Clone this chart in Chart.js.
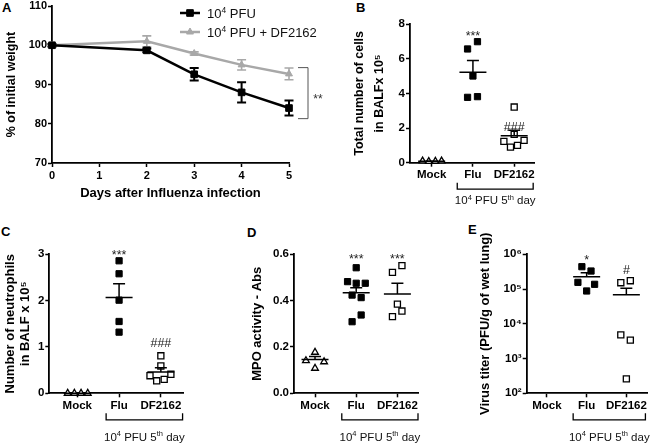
<!DOCTYPE html>
<html><head><meta charset="utf-8">
<script src="https://cdn.jsdelivr.net/npm/chart.js@4.4.1/dist/chart.umd.min.js"></script>
<style>
html,body{margin:0;padding:0;background:#fff;}
body{position:relative;width:653px;height:443px;overflow:hidden;}
canvas{position:absolute;}
.pl{position:absolute;font-family:"Liberation Sans",Arial,sans-serif;font-weight:bold;font-size:13px;line-height:13px;color:#000;}
</style></head><body>
<div class="pl" style="left:2px;top:1px">A</div>
<div class="pl" style="left:356px;top:1px">B</div>
<div class="pl" style="left:1px;top:225px">C</div>
<div class="pl" style="left:247px;top:226px">D</div>
<div class="pl" style="left:468px;top:223px">E</div>
<canvas id="cA" width="330" height="210" style="left:0;top:0;width:330px;height:210px"></canvas>
<canvas id="cB" width="323" height="215" style="left:330px;top:0;width:323px;height:215px"></canvas>
<canvas id="cC" width="215" height="228" style="left:0;top:215px;width:215px;height:228px"></canvas>
<canvas id="cD" width="215" height="228" style="left:215px;top:215px;width:215px;height:228px"></canvas>
<canvas id="cE" width="223" height="228" style="left:430px;top:215px;width:223px;height:228px"></canvas>
<script>
// ---------------- data ----------------
// Panel A: body weight
const dayValues = [0, 2, 3, 4, 5];
const dayTicks = [0, 1, 2, 3, 4, 5];
const weightTicks = [70, 80, 90, 100, 110];
const seriesNames = ['10⁴ PFU', '10⁴ PFU + DF2162'];
const weightPFU = [100, 98.7, 92.6, 88.0, 84.0];
const weightPFUSem = [0.3, 0.5, 1.6, 2.6, 1.9];
const weightDF = [100, 101.0, 97.9, 95.0, 92.7];
const weightDFSem = [0.3, 1.4, 0.4, 1.3, 1.5];
const sigTop = 94.3, sigBottom = 81.3;

const groups = ['Mock', 'Flu', 'DF2162'];
const bracketLabel = '10⁴ PFU 5ᵗʰ day';

// Panel B: total cells in BALF (x10^5)
const bTicks = [0, 2, 4, 6, 8];
const bMock = [0.10, 0.07, 0.08, 0.10];
const bMockJitter = [-0.22, -0.07, 0.09, 0.24];
const bFlu = [6.56, 6.98, 5.00, 3.77, 3.81];
const bFluJitter = [-0.13, 0.11, 0, -0.13, 0.11];
const bDF = [3.21, 1.64, 1.23, 1.29, 0.90, 1.00];
const bDFJitter = [0, 0, -0.25, 0.24, -0.09, 0.08];
const bMean = [0.09, 5.22, 1.55];
const bSem = [0.01, 0.68, 0.32];

// Panel C: neutrophils in BALF (x10^5)
const cTicks = [0, 1, 2, 3];
const cMock = [0, 0, 0, 0];
const cMockJitter = [-0.23, -0.07, 0.09, 0.25];
const cFlu = [2.86, 2.58, 2.01, 1.55, 1.32];
const cFluJitter = [0, 0, 0, 0, 0];
const cDF = [0.81, 0.59, 0.38, 0.41, 0.27, 0.30];
const cDFJitter = [0, 0, -0.26, 0.24, -0.10, 0.08];
const cMean = [0, 2.065, 0.46];
const cSem = [0, 0.30, 0.09];

// Panel D: MPO activity
const dTicks = [0, 0.2, 0.4, 0.6];
const dMock = [0.177, 0.141, 0.136, 0.108];
const dMockJitter = [0, -0.22, 0.22, 0];
const dFlu = [0.542, 0.482, 0.475, 0.475, 0.424, 0.413, 0.338, 0.309];
const dFluJitter = [0, -0.21, 0, 0.22, -0.10, 0.12, 0.12, -0.10];
const dDF = [0.522, 0.551, 0.385, 0.355, 0.331];
const dDFJitter = [-0.12, 0.11, 0, 0.11, -0.12];
const dMean = [0.146, 0.434, 0.429];
const dSem = [0.013, 0.022, 0.046];

// Panel E: virus titer
const eTicks = [1e2, 1e3, 1e4, 1e5, 1e6];
const eFlu = [4.4e5, 3.3e5, 1.56e5, 1.37e5, 8.8e4];
const eFluJitter = [-0.12, 0.11, -0.22, 0.20, 0];
const eDF = [1.52e5, 1.74e5, 4.8e3, 3.4e3, 2.6e2];
const eDFJitter = [-0.14, 0.10, -0.14, 0.10, 0];
const eMean = [null, 2.27e5, 6.8e4];
const eSem = [null, 6.8e4, 3.7e4];

// ---------------- helpers ----------------
const FONT = '"Liberation Sans", Arial, Helvetica, sans-serif';
Chart.defaults.font.family = FONT;
Chart.defaults.color = '#000';
Chart.defaults.animation = false;

const SUP = {'⁰':'0','¹':'1','²':'2','³':'3','⁴':'4','⁵':'5','⁶':'6','⁷':'7','⁸':'8','⁹':'9','ᵗ':'t','ʰ':'h'};
const SUPDIG = ['⁰','¹','²','³','⁴','⁵','⁶','⁷','⁸','⁹'];
function parseRich(s) {
  const parts = [];
  for (const ch of s) {
    const sup = SUP[ch] !== undefined;
    const t = sup ? SUP[ch] : ch;
    const last = parts[parts.length - 1];
    if (last && last.sup === sup) last.t += t; else parts.push({t, sup});
  }
  return parts;
}
function drawRich(ctx, parts, x, y, size, align) {
  const f = (s) => `normal ${s}px ${FONT}`;
  let w = 0;
  parts.forEach(p => { ctx.font = f(p.sup ? size * 0.65 : size); w += ctx.measureText(p.t).width; });
  let cx = align === 'center' ? x - w / 2 : x;
  ctx.textBaseline = 'alphabetic'; ctx.textAlign = 'left';
  parts.forEach(p => {
    const s = p.sup ? size * 0.65 : size;
    ctx.font = f(s);
    ctx.fillText(p.t, cx, p.sup ? y - size * 0.38 : y);
    cx += ctx.measureText(p.t).width;
  });
}
function marker(ctx, style, r, bw, x, y) {
  if (Chart.helpers && Chart.helpers.drawPoint) {
    Chart.helpers.drawPoint(ctx, {pointStyle: style, radius: r, rotation: 0, borderWidth: bw}, x, y);
  } else {
    ctx.beginPath();
    if (style === 'rect') { const s = r * Math.SQRT1_2; ctx.rect(x - s, y - s, 2 * s, 2 * s); }
    else { ctx.moveTo(x, y - r); ctx.lineTo(x + r * 0.866, y + r / 2); ctx.lineTo(x - r * 0.866, y + r / 2); ctx.closePath(); }
    ctx.fill(); ctx.stroke();
  }
}
function axisStyle(extra) {
  return Object.assign({
    border: {display: true, color: '#000', width: 1.8},
    grid: {display: true, drawOnChartArea: false, drawTicks: true, tickLength: 4, tickWidth: 1.5, tickColor: '#000'}
  }, extra);
}
function fixedY(width) { return function (s) { s.width = width; s.paddingTop = 0; s.paddingBottom = 0; }; }
function fixedX(height) { return function (s) { s.height = height; s.paddingLeft = 0; s.paddingRight = 0; }; }
function setTicks(values) { return function (s) { s.ticks = values.map(v => ({value: v})); }; }

// ---------------- Panel A ----------------
const plugA = {
  id: 'panelA',
  beforeDatasetsDraw(chart) {
    const {ctx, scales: {x, y}} = chart;
    const sets = [[weightDF, weightDFSem, '#a8a8a8', 1.6], [weightPFU, weightPFUSem, '#000', 2]];
    ctx.save();
    sets.forEach(([vals, sems, col, lw]) => {
      ctx.strokeStyle = col; ctx.lineWidth = lw;
      vals.forEach((v, i) => {
        const px = x.getPixelForValue(dayValues[i]);
        const y1 = y.getPixelForValue(v + sems[i]), y2 = y.getPixelForValue(v - sems[i]);
        ctx.beginPath();
        ctx.moveTo(px, y1); ctx.lineTo(px, y2);
        ctx.moveTo(px - 4.5, y1); ctx.lineTo(px + 4.5, y1);
        ctx.moveTo(px - 4.5, y2); ctx.lineTo(px + 4.5, y2);
        ctx.stroke();
      });
    });
    ctx.restore();
  },
  afterDraw(chart) {
    const {ctx, scales: {y}, chartArea} = chart;
    ctx.save();
    // legend
    const rows = [
      {cy: 13, base: 17.5, col: '#000', style: 'rect', r: 4.7, name: seriesNames[0]},
      {cy: 32, base: 36.7, col: '#a8a8a8', style: 'triangle', r: 4, name: seriesNames[1]}
    ];
    rows.forEach(rw => {
      ctx.strokeStyle = rw.col; ctx.fillStyle = rw.col; ctx.lineWidth = 2.5;
      ctx.beginPath(); ctx.moveTo(180, rw.cy); ctx.lineTo(200, rw.cy); ctx.stroke();
      ctx.lineWidth = 1;
      marker(ctx, rw.style, rw.r, 1, 190, rw.cy);
      ctx.fillStyle = '#111';
      drawRich(ctx, parseRich(rw.name), 207, rw.base, 13, 'left');
    });
    // significance bracket
    const r = chartArea.right;
    const yt = y.getPixelForValue(sigTop), yb = y.getPixelForValue(sigBottom);
    ctx.strokeStyle = '#555'; ctx.lineWidth = 1;
    ctx.beginPath();
    ctx.moveTo(r + 9, yt); ctx.lineTo(r + 19, yt); ctx.lineTo(r + 19, yb); ctx.lineTo(r + 9, yb);
    ctx.stroke();
    ctx.fillStyle = '#333'; ctx.font = `12px ${FONT}`; ctx.textAlign = 'center'; ctx.textBaseline = 'alphabetic';
    ctx.fillText('**', r + 29, (yt + yb) / 2 + 2.5 + 0.575 * 12);
    ctx.restore();
  }
};

new Chart(document.getElementById('cA'), {
  type: 'line',
  data: {datasets: [
    {label: seriesNames[0], data: dayValues.map((d, i) => ({x: d, y: weightPFU[i]})),
     borderColor: '#000', backgroundColor: '#000', borderWidth: 2.5, pointStyle: 'rect',
     pointRadius: 4.7, pointHoverRadius: 4.7, pointBorderWidth: 1, tension: 0, clip: false},
    {label: seriesNames[1], data: dayValues.map((d, i) => ({x: d, y: weightDF[i]})),
     borderColor: '#a8a8a8', backgroundColor: '#a8a8a8', borderWidth: 2.5, pointStyle: 'triangle',
     pointRadius: 4, pointHoverRadius: 4, pointBorderWidth: 1, tension: 0, clip: false}
  ]},
  options: {
    responsive: false, animation: false,
    layout: {padding: {left: 0, top: 6, right: 41, bottom: 0}},
    plugins: {legend: {display: false}, tooltip: {enabled: false}},
    scales: {
      x: axisStyle({type: 'linear', min: 0, max: 5, afterBuildTicks: setTicks(dayTicks), afterFit: fixedX(47),
        ticks: {font: {size: 11, weight: 'bold'}, padding: 2, color: '#000', maxRotation: 0, autoSkip: false},
        title: {display: true, text: 'Days after Influenza infection', color: '#000',
          font: {size: 13, weight: 'bold'}, padding: {top: 0, bottom: 9}}}),
      y: axisStyle({type: 'linear', min: 70, max: 110, afterBuildTicks: setTicks(weightTicks), afterFit: fixedY(52),
        ticks: {font: {size: 11, weight: 'bold'}, padding: 1, color: '#000'},
        title: {display: true, text: '% of initial weight', color: '#000',
          font: {size: 12.5, weight: 'bold'}, padding: {top: 4.2, bottom: 0}}})
    }
  },
  plugins: [plugA]
});

// ---------------- scatter panels ----------------
function scatterPanel(id, p) {
  const datasets = p.series.map(s => {
    const tri = s.style === 'tri', filled = s.style === 'sq';
    return {
      data: s.vals.map((v, i) => ({x: s.cat + s.jit[i], y: v})),
      pointStyle: tri ? 'triangle' : 'rect',
      pointRadius: tri ? 3.9 : (filled ? 4.4 : 4.3),
      pointHoverRadius: tri ? 3.9 : (filled ? 4.4 : 4.3),
      pointBorderWidth: filled ? 1 : 1.3,
      backgroundColor: filled ? '#000' : '#fff',
      borderColor: '#000',
      clip: false
    };
  });
  const stats = {
    id: 'stats',
    afterDatasetsDraw(chart) {
      const {ctx, scales: {x, y}, chartArea} = chart;
      ctx.save();
      ctx.strokeStyle = '#000'; ctx.lineWidth = 1.5;
      p.mean.forEach((m, i) => {
        if (m == null) return;
        const cx = x.getPixelForValue(i), my = y.getPixelForValue(m), sy = y.getPixelForValue(m + p.sem[i]);
        ctx.beginPath();
        ctx.moveTo(cx - 13.5, my); ctx.lineTo(cx + 13.5, my);
        ctx.moveTo(cx, my); ctx.lineTo(cx, sy);
        ctx.moveTo(cx - 6, sy); ctx.lineTo(cx + 6, sy);
        ctx.stroke();
      });
      ctx.fillStyle = '#222'; ctx.textAlign = 'center'; ctx.textBaseline = 'alphabetic';
      p.marks.forEach(mk => {
        const fs = 12.5;
        ctx.font = `${fs}px ${FONT}`;
        const cy = y.getPixelForValue(mk.y);
        const base = cy + (mk.text.includes('*') ? 0.575 : 0.36) * fs;
        ctx.fillText(mk.text, x.getPixelForValue(mk.cat), base);
      });
      const bx1 = x.getPixelForValue(p.bracket[0]), bx2 = x.getPixelForValue(p.bracket[1]);
      const by = chartArea.bottom + 26.5;
      ctx.strokeStyle = '#000'; ctx.lineWidth = 1.3;
      ctx.beginPath();
      ctx.moveTo(bx1, by - 6.5); ctx.lineTo(bx1, by); ctx.lineTo(bx2, by); ctx.lineTo(bx2, by - 6.5);
      ctx.stroke();
      ctx.fillStyle = '#111';
      drawRich(ctx, parseRich(bracketLabel), (bx1 + bx2) / 2, chartArea.bottom + p.labelDy, 11.5, 'center');
      ctx.restore();
    }
  };
  return new Chart(document.getElementById(id), {
    type: 'scatter',
    data: {datasets},
    options: {
      responsive: false, animation: false,
      layout: {padding: {left: 0, top: p.padTop, right: p.padRight, bottom: 0}},
      plugins: {legend: {display: false}, tooltip: {enabled: false}},
      scales: {
        x: axisStyle({type: 'linear', min: p.xMin, max: p.xMax, afterBuildTicks: setTicks([0, 1, 2]),
          afterFit: fixedX(p.xH),
          ticks: {autoSkip: false, maxRotation: 0, font: {size: 11.5, weight: 'bold'}, padding: 1.5, color: '#000',
            callback: (v) => groups[Math.round(v)]}}),
        y: axisStyle({type: p.yType || 'linear', min: p.yMin, max: p.yMax, afterBuildTicks: setTicks(p.yTicks),
          afterFit: fixedY(p.yW),
          ticks: {font: {size: 11.5, weight: 'bold'}, padding: 1, color: '#000', callback: p.fmt},
          title: {display: true, text: p.title, color: '#000',
            font: {size: p.titleSize, weight: 'bold', lineHeight: p.titleLH}, padding: {top: p.titlePad, bottom: 0}}})
      }
    },
    plugins: [stats]
  });
}

scatterPanel('cB', {
  series: [
    {vals: bMock, jit: bMockJitter, cat: 0, style: 'tri'},
    {vals: bFlu, jit: bFluJitter, cat: 1, style: 'sq'},
    {vals: bDF, jit: bDFJitter, cat: 2, style: 'osq'}
  ],
  mean: bMean, sem: bSem,
  marks: [{cat: 1, y: 7.5, text: '***'}, {cat: 2, y: 2.1, text: '###'}],
  bracket: [0.62, 2.46], labelDy: 41.6,
  padTop: 24, padRight: 119, xH: 52.3, yW: 80,
  xMin: -0.525, xMax: 2.48,
  yMin: 0, yMax: 8, yTicks: bTicks, fmt: (v) => String(v),
  title: ['Total number of cells', 'in BALFx 10⁵'], titleSize: 12.5, titleLH: '20px', titlePad: 20
});

scatterPanel('cC', {
  series: [
    {vals: cMock, jit: cMockJitter, cat: 0, style: 'tri'},
    {vals: cFlu, jit: cFluJitter, cat: 1, style: 'sq'},
    {vals: cDF, jit: cDFJitter, cat: 2, style: 'osq'}
  ],
  mean: cMean, sem: cSem,
  marks: [{cat: 1, y: 3.05, text: '***'}, {cat: 2, y: 1.1, text: '###'}],
  bracket: [0.69, 2.52], labelDy: 47.4,
  padTop: 39.3, padRight: 32, xH: 49.7, yW: 49.3,
  xMin: -0.67, xMax: 2.53,
  yMin: 0, yMax: 3, yTicks: cTicks, fmt: (v) => String(v),
  title: ['Number of neutrophils', 'in BALF x 10⁵'], titleSize: 13, titleLH: '15px', titlePad: 2.5
});

scatterPanel('cD', {
  series: [
    {vals: dMock, jit: dMockJitter, cat: 0, style: 'tri'},
    {vals: dFlu, jit: dFluJitter, cat: 1, style: 'sq'},
    {vals: dDF, jit: dDFJitter, cat: 2, style: 'osq'}
  ],
  mean: dMean, sem: dSem,
  marks: [{cat: 1, y: 0.592, text: '***'}, {cat: 2, y: 0.592, text: '***'}],
  bracket: [0.65, 2.5], labelDy: 47.4,
  padTop: 39.3, padRight: 12, xH: 49.7, yW: 79,
  xMin: -0.51, xMax: 2.5,
  yMin: 0, yMax: 0.6, yTicks: dTicks, fmt: (v) => Number(v).toFixed(1),
  title: 'MPO activity - Abs', titleSize: 13, titleLH: '15px', titlePad: 34.5
});

scatterPanel('cE', {
  series: [
    {vals: eFlu, jit: eFluJitter, cat: 1, style: 'sq'},
    {vals: eDF, jit: eDFJitter, cat: 2, style: 'osq'}
  ],
  mean: eMean, sem: eSem,
  marks: [{cat: 1, y: 8.3e5, text: '*'}, {cat: 2, y: 3.7e5, text: '#'}],
  bracket: [0.66, 2.48], labelDy: 47.4,
  padTop: 39.3, padRight: 1.3, xH: 49.7, yW: 96.7,
  xMin: -0.51, xMax: 2.53,
  yType: 'logarithmic', yMin: 1e2, yMax: 1e6, yTicks: eTicks,
  fmt: (v) => '10' + SUPDIG[Math.round(Math.log10(v))],
  title: 'Virus titer (PFU/g of wet lung)', titleSize: 13, titleLH: '15px', titlePad: 48.2
});
</script>
</body></html>
